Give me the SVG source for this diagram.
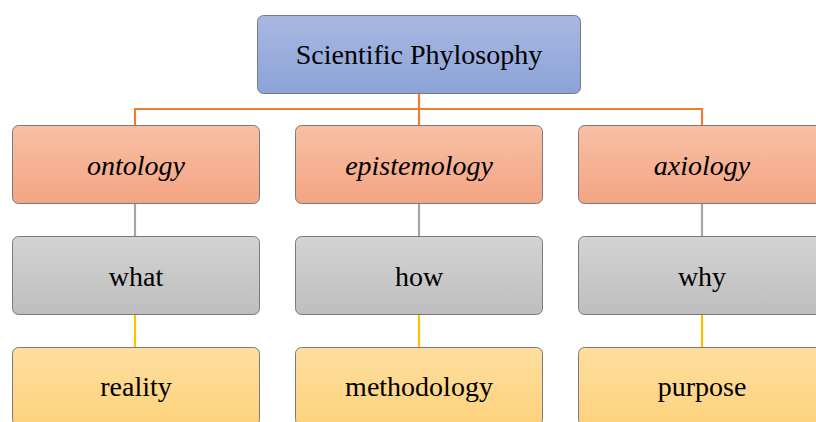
<svg xmlns="http://www.w3.org/2000/svg" width="816" height="422" viewBox="0 0 816 422">
<defs>
<linearGradient id="gBlue" x1="0" y1="0" x2="0" y2="1"><stop offset="0" stop-color="#A8B8E2"/><stop offset="1" stop-color="#8CA3D8"/></linearGradient>
<linearGradient id="gOr" x1="0" y1="0" x2="0" y2="1"><stop offset="0" stop-color="#F7C0A4"/><stop offset="1" stop-color="#F4A483"/></linearGradient>
<linearGradient id="gGr" x1="0" y1="0" x2="0" y2="1"><stop offset="0" stop-color="#D3D3D3"/><stop offset="1" stop-color="#BEBEBE"/></linearGradient>
<linearGradient id="gYe" x1="0" y1="0" x2="0" y2="1"><stop offset="0" stop-color="#FEDE9F"/><stop offset="1" stop-color="#FDD27C"/></linearGradient>
</defs>
<style>
.box{stroke:#7A7A7A;stroke-width:1}
.t{font-family:"Liberation Serif","Times New Roman",serif;font-size:28px;fill:#000;text-anchor:middle;dominant-baseline:central}
.i{font-style:italic}
.co{stroke:#ED7D31;stroke-width:2.2;fill:none}
.cg{stroke:#A5A5A5;stroke-width:2.2;fill:none}
.cy{stroke:#FFC000;stroke-width:2.2;fill:none}
</style>
<g id="connectors">
<path class="co" d="M419,93 V125 M135,125 V109 H702 V125"/>
<path class="cg" d="M135,203 V236 M419,203 V236 M702,203 V236"/>
<path class="cy" d="M135,314 V347 M419,314 V347 M702,314 V347"/>
</g>
<g id="root"><rect class="box" x="257.5" y="15.5" width="323" height="78" rx="6" fill="url(#gBlue)"/><text class="t" x="419" y="54">Scientific Phylosophy</text></g>
<g id="ontology"><rect class="box" x="12.5" y="125.5" width="247" height="78" rx="6" fill="url(#gOr)"/><text class="t i" x="136" y="165">ontology</text></g>
<g id="epistemology"><rect class="box" x="295.5" y="125.5" width="247" height="78" rx="6" fill="url(#gOr)"/><text class="t i" x="419" y="165">epistemology</text></g>
<g id="axiology"><rect class="box" x="578.5" y="125.5" width="247" height="78" rx="6" fill="url(#gOr)"/><text class="t i" x="702" y="165">axiology</text></g>
<g id="what"><rect class="box" x="12.5" y="236.5" width="247" height="78" rx="6" fill="url(#gGr)"/><text class="t" x="136" y="276">what</text></g>
<g id="how"><rect class="box" x="295.5" y="236.5" width="247" height="78" rx="6" fill="url(#gGr)"/><text class="t" x="419" y="276">how</text></g>
<g id="why"><rect class="box" x="578.5" y="236.5" width="247" height="78" rx="6" fill="url(#gGr)"/><text class="t" x="702" y="276">why</text></g>
<g id="reality"><rect class="box" x="12.5" y="347.5" width="247" height="78" rx="6" fill="url(#gYe)"/><text class="t" x="136" y="386">reality</text></g>
<g id="methodology"><rect class="box" x="295.5" y="347.5" width="247" height="78" rx="6" fill="url(#gYe)"/><text class="t" x="419" y="386">methodology</text></g>
<g id="purpose"><rect class="box" x="578.5" y="347.5" width="247" height="78" rx="6" fill="url(#gYe)"/><text class="t" x="702" y="386">purpose</text></g>
</svg>
